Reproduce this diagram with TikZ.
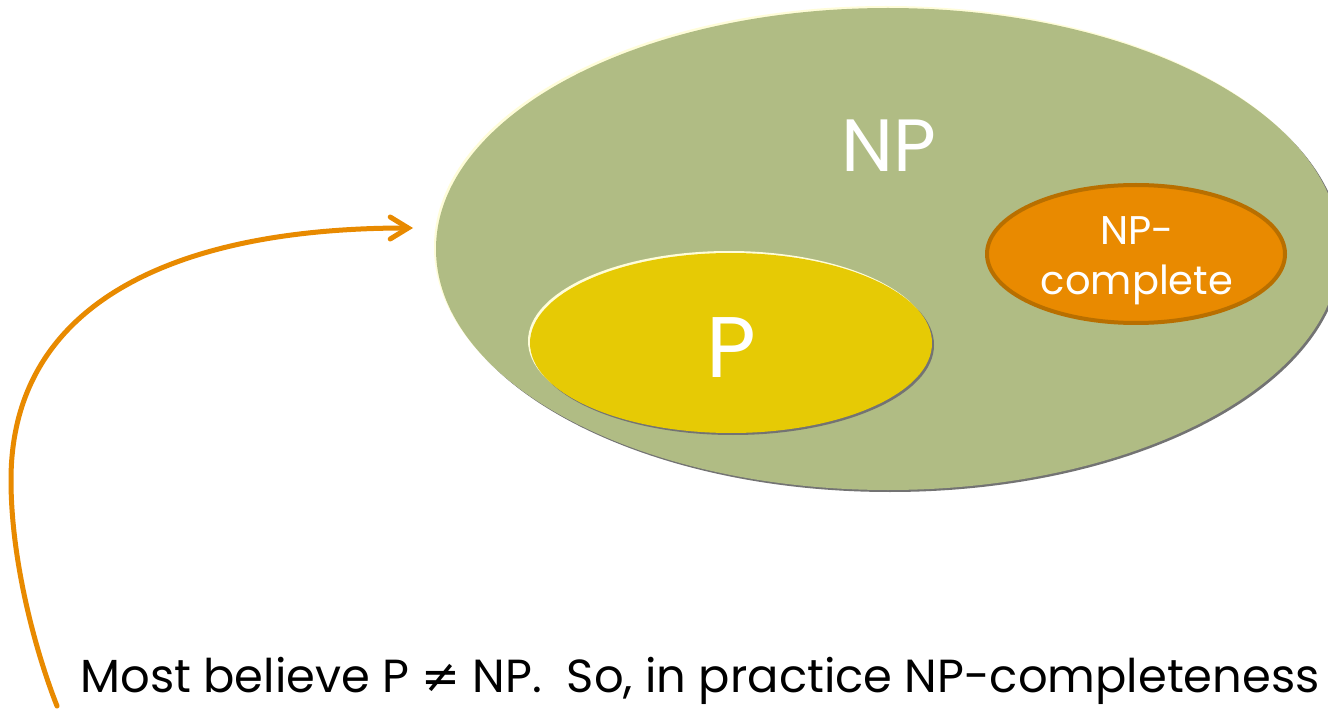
\documentclass[tikz,border=0pt]{standalone}
\usepackage{fontspec}
\setmainfont{Poppins}
\newfontfamily\symfont{DejaVu Sans}
\usetikzlibrary{shapes.geometric,arrows.meta}
\definecolor{setgreen}{HTML}{B0BC84}
\definecolor{setyellow}{HTML}{E6CA05}
\definecolor{setorange}{HTML}{E98A00}
\definecolor{setorangedk}{HTML}{B86F00}
\definecolor{arroworange}{HTML}{E88A00}
\tikzset{
  setshape/.style={ellipse, inner sep=0pt},
  bevel/.style={ellipse, inner sep=0pt, fill=black!55, draw=none},
  highlight/.style={ellipse, inner sep=0pt, fill=white!85!yellow, draw=none},
  setlabel/.style={anchor=base, text=white},
  linkarrow/.style={draw=arroworange, line width=2.5pt, line cap=round,
    -{Straight Barb[length=9pt, width=11pt, line cap=round]}}
}
\begin{document}
\begin{tikzpicture}[x=0.5pt, y=-0.5pt]
  \useasboundingbox (0,0) rectangle (1328,711);
  \clip (0,0) rectangle (1328,711);
  \fill[white] (0,0) rectangle (1328,711);

  % NP set with a soft bevelled rim
  \node[bevel, minimum width=452pt, minimum height=241pt] at (890,251) {};
  \node[highlight, minimum width=452pt, minimum height=241pt] at (886,247) {};
  \node[setshape, fill=setgreen, minimum width=452pt, minimum height=241pt] (np) at (888,249) {};
  \node[setlabel, font=\fontsize{37}{40}\selectfont] (nplabel) at (889,172) {NP};

  % P inside NP
  \node[bevel, minimum width=201pt, minimum height=90pt] at (733,345) {};
  \node[highlight, minimum width=201pt, minimum height=90pt] at (729,341) {};
  \node[setshape, fill=setyellow, minimum width=201pt, minimum height=90pt] (p) at (731,343) {};
  \node[setlabel, font=\fontsize{43}{46}\selectfont] (plabel) at (731,378) {P};

  % NP-complete subset
  \node[setshape, fill=setorange, draw=setorangedk, line width=2pt,
        minimum width=149pt, minimum height=69pt] (npc) at (1136,254) {};
  \node[setlabel, font=\fontsize{20}{24}\selectfont] (npcA) at (1137,245) {NP-};
  \node[setlabel, font=\fontsize{20}{24}\selectfont] (npcB) at (1137,295) {complete};

  % caption line
  \node[anchor=base west, inner sep=0pt, font=\fontsize{23.2}{28}\selectfont] (caption) at (80,692)
    {Most believe P {\symfont ≠} NP.\ \ So, in practice NP-completeness};

  % curved pointer from the caption up to the NP set
  \coordinate (start) at (57,706);
  \coordinate (bend) at (11,480);
  \coordinate (tip) at (413,228);
  \draw[linkarrow] (start) .. controls (35,650) and (11,560) .. (bend)
    .. controls (11,300) and (180,228) .. (tip);
\end{tikzpicture}
\end{document}
